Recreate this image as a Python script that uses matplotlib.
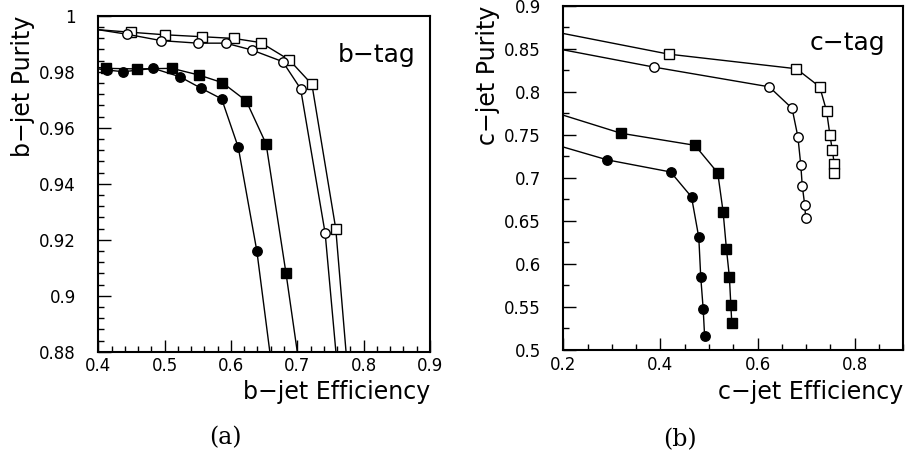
import matplotlib
matplotlib.use('Agg')
import matplotlib.pyplot as plt
from matplotlib.ticker import MultipleLocator, FuncFormatter

# b-tag panel: efficiency / purity for the four selections
# (first and last point of each curve are off the frame, they only carry the line)
b_eff_open_sq = [0.400, 0.449, 0.500, 0.556, 0.604, 0.645, 0.688, 0.722, 0.758, 0.777]
b_pur_open_sq = [0.9950, 0.9941, 0.9932, 0.9925, 0.9919, 0.9904, 0.9842, 0.9755, 0.9239, 0.8700]
b_eff_open_ci = [0.400, 0.443, 0.495, 0.550, 0.592, 0.631, 0.678, 0.705, 0.742, 0.762]
b_pur_open_ci = [0.9950, 0.9934, 0.9911, 0.9902, 0.9902, 0.9878, 0.9836, 0.9739, 0.9223, 0.8700]
b_eff_fill_sq = [0.400, 0.412, 0.458, 0.511, 0.552, 0.587, 0.623, 0.653, 0.683, 0.706]
b_pur_fill_sq = [0.9815, 0.9812, 0.9810, 0.9812, 0.9788, 0.9761, 0.9696, 0.9542, 0.9080, 0.8700]
b_eff_fill_ci = [0.400, 0.413, 0.438, 0.483, 0.523, 0.555, 0.586, 0.611, 0.639, 0.664]
b_pur_fill_ci = [0.9810, 0.9806, 0.9800, 0.9812, 0.9782, 0.9741, 0.9703, 0.9530, 0.9160, 0.8700]

# c-tag panel (first point sits on the left frame, line only)
c_eff_open_sq = [0.200, 0.417, 0.680, 0.728, 0.742, 0.749, 0.754, 0.758, 0.758]
c_pur_open_sq = [0.868, 0.844, 0.827, 0.806, 0.778, 0.750, 0.732, 0.716, 0.706]
c_eff_open_ci = [0.200, 0.386, 0.624, 0.671, 0.683, 0.689, 0.692, 0.697, 0.699]
c_pur_open_ci = [0.849, 0.829, 0.806, 0.781, 0.748, 0.715, 0.691, 0.669, 0.654]
c_eff_fill_sq = [0.200, 0.319, 0.471, 0.518, 0.529, 0.536, 0.542, 0.545, 0.547]
c_pur_fill_sq = [0.773, 0.752, 0.738, 0.706, 0.661, 0.617, 0.585, 0.552, 0.531]
c_eff_fill_ci = [0.200, 0.291, 0.421, 0.464, 0.479, 0.483, 0.488, 0.491]
c_pur_fill_ci = [0.736, 0.721, 0.707, 0.678, 0.631, 0.585, 0.548, 0.516]

fmt = FuncFormatter(lambda v, pos: '%g' % round(v, 4))


def curve(ax, x, y, marker, filled, skip_last):
    n = len(x)
    last = n - 1 if skip_last else n
    ax.plot(x, y, color='black', lw=1.0, marker=marker,
            ms=6.8 if marker == 'o' else 6.8,
            mfc='black' if filled else 'white', mec='black', mew=1.0,
            markevery=list(range(1, last)), zorder=3)


def style(ax, xlim, ylim, xmaj, xmin, ymaj, ymin):
    ax.set_xlim(*xlim)
    ax.set_ylim(*ylim)
    ax.xaxis.set_major_locator(MultipleLocator(xmaj))
    ax.xaxis.set_minor_locator(MultipleLocator(xmin))
    ax.yaxis.set_major_locator(MultipleLocator(ymaj))
    ax.yaxis.set_minor_locator(MultipleLocator(ymin))
    ax.xaxis.set_major_formatter(fmt)
    ax.yaxis.set_major_formatter(fmt)
    ax.tick_params(which='both', direction='in', labelsize=12, width=1.0)
    ax.tick_params(which='major', length=9)
    ax.tick_params(which='minor', length=4.5)
    ax.tick_params(axis='x', pad=4)
    ax.tick_params(axis='y', pad=16)
    for s in ax.spines.values():
        s.set_linewidth(1.5)


fig = plt.figure(figsize=(9.05, 4.53), dpi=100)

# (a) b-tag
ax1 = fig.add_axes([0.1086, 0.2236, 0.3665, 0.7417])
curve(ax1, b_eff_open_sq, b_pur_open_sq, 's', False, True)
curve(ax1, b_eff_open_ci, b_pur_open_ci, 'o', False, True)
curve(ax1, b_eff_fill_sq, b_pur_fill_sq, 's', True, True)
curve(ax1, b_eff_fill_ci, b_pur_fill_ci, 'o', True, True)
style(ax1, (0.4, 0.9), (0.88, 1.0), 0.1, 0.02, 0.02, 0.004)
ax1.set_xlabel('b\u2212jet Efficiency', fontsize=17, loc='right')
ax1.xaxis.set_label_coords(1.0, -0.085)
ax1.set_ylabel('b\u2212jet Purity', fontsize=17, loc='top')
ax1.yaxis.set_label_coords(-0.19, 1.0)
ax1.text(0.955, 0.862, 'b\u2212tag', transform=ax1.transAxes, fontsize=18,
         ha='right', va='baseline')

# (b) c-tag
ax2 = fig.add_axes([0.6224, 0.2274, 0.3757, 0.7594])
curve(ax2, c_eff_open_sq, c_pur_open_sq, 's', False, False)
curve(ax2, c_eff_open_ci, c_pur_open_ci, 'o', False, False)
curve(ax2, c_eff_fill_sq, c_pur_fill_sq, 's', True, False)
curve(ax2, c_eff_fill_ci, c_pur_fill_ci, 'o', True, False)
style(ax2, (0.2, 0.9), (0.5, 0.9), 0.2, 0.05, 0.05, 0.025)
ax2.set_xlabel('c\u2212jet Efficiency', fontsize=17, loc='right')
ax2.xaxis.set_label_coords(1.0, -0.087)
ax2.set_ylabel('c\u2212jet Purity', fontsize=17, loc='top')
ax2.yaxis.set_label_coords(-0.186, 1.0)
ax2.text(0.946, 0.872, 'c\u2212tag', transform=ax2.transAxes, fontsize=18,
         ha='right', va='baseline')

fig.text(0.2486, 0.033, '(a)', fontsize=17, family='DejaVu Serif', ha='center', va='center')
fig.text(0.751, 0.029, '(b)', fontsize=17, family='DejaVu Serif', ha='center', va='center')

fig.savefig('out.png', dpi=100)
